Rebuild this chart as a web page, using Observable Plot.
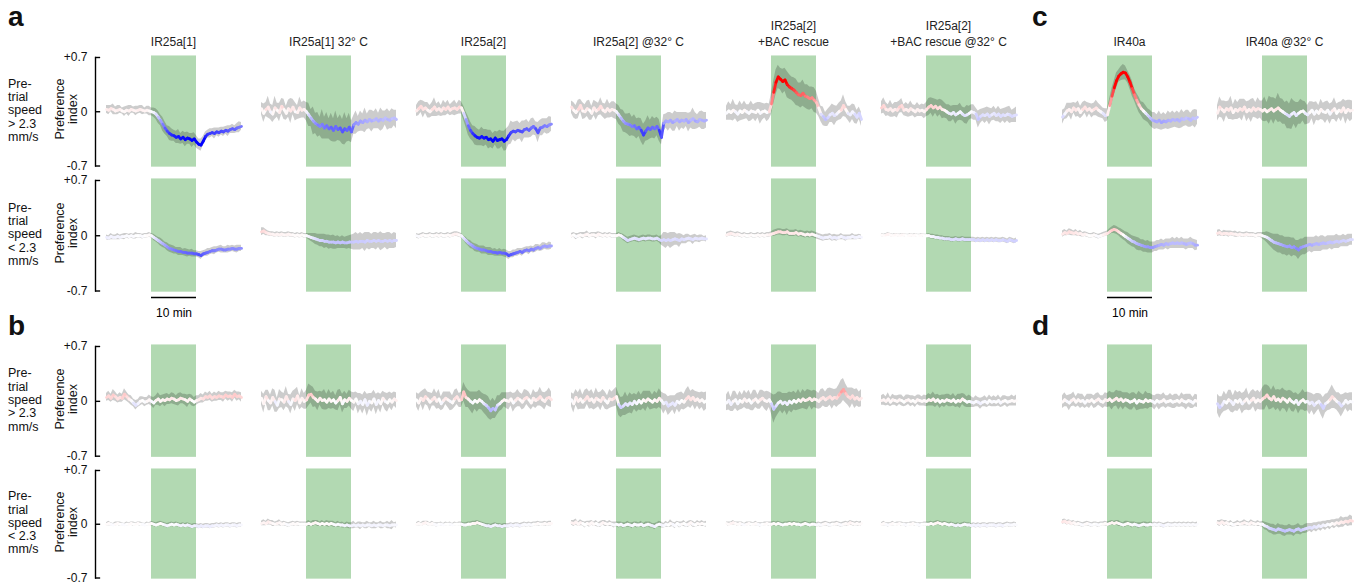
<!DOCTYPE html>
<html><head><meta charset="utf-8">
<script src="https://cdn.jsdelivr.net/npm/d3@7"></script>
<script src="https://cdn.jsdelivr.net/npm/@observablehq/plot@0.6"></script>
<style>
body{margin:0;background:#fff;font-family:"Liberation Sans",Arial,sans-serif;color:#111;}
#root{position:relative;width:1360px;height:584px;overflow:hidden;background:#fff;}
.title{position:absolute;font-size:12px;line-height:16px;text-align:center;width:220px;color:#222;white-space:nowrap;}
.letter{position:absolute;font-weight:bold;font-size:28px;line-height:28px;}
.rowlab{position:absolute;font-size:12.5px;line-height:13.3px;white-space:nowrap;}
.pi{position:absolute;font-size:12.5px;line-height:12.5px;width:90px;height:26px;text-align:center;transform:rotate(-90deg);}
</style></head><body><div id="root"></div>
<script>
// time grid (minutes) and stimulus window
const minutes = d3.range(0, 30.01, 0.5);
const stimulus = [{start: 10, end: 20}];
const titles = [["IR25a[1]"],["IR25a[1] 32° C"],["IR25a[2]"],["IR25a[2] @32° C"],["IR25a[2]","+BAC rescue"],["IR25a[2]","+BAC rescue @32° C"],["IR40a"],["IR40a @32° C"]];
const speedLabels = ["> 2.3","< 2.3","> 2.3","< 2.3"];
const yTicks = [-0.7, 0, 0.7];
const yTickLabels = ["-0.7","0","+0.7"];
const panelLetters = ["a","b","c","d"];

// mean preference index (x100) and half-width of the grey band (x100), 61 points each
// row 1: a, pre-trial speed > 2.3
const m_r1c1=[3,2,4,3,1,2,3,1,0,2, 1,3,2,1,2,3,2,1,2,1, 0,-1,-3,-7,-11,-16,-21,-25,-28,-30, -31,-33,-32,-35,-33,-36,-34,-35,-37,-35, -39,-42,-43,-38,-32,-29,-28,-27,-28,-26, -27,-25,-26,-24,-25,-23,-22,-23,-21,-20, -19];
const w_r1c1=[5,6,4,7,5,6,5,4,6,5, 7,5,4,6,5,5,6,4,5,6, 5,6,7,8,7,9,8,7,9,8, 7,8,9,7,8,9,8,7,9,8, 8,7,8,6,6,5,6,5,7,5, 6,5,6,5,7,5,6,5,6,7, 5];
const m_r1c2=[4,-2,3,6,0,-3,5,2,-1,7, 3,-2,4,1,6,0,-1,5,2,3, 0,-4,-8,-12,-15,-17,-19,-16,-21,-18, -22,-20,-24,-19,-23,-21,-26,-22,-24,-20, -26,-17,-14,-16,-12,-14,-11,-13,-10,-12, -11,-9,-12,-10,-11,-8,-10,-11,-9,-8, -10];
const w_r1c2=[8,12,9,14,10,11,15,9,12,10, 13,9,11,16,10,12,9,14,10,11, 12,15,11,18,13,16,12,19,14,17, 13,18,15,20,14,17,16,21,15,18, 14,12,15,10,13,11,16,10,12,14, 11,13,10,15,12,9,14,11,13,10, 12];
const m_r1c3=[1,4,7,3,5,2,0,3,6,2, 4,1,5,3,6,2,4,5,3,6, 5,-2,-10,-18,-24,-28,-31,-33,-34,-32, -34,-33,-36,-35,-38,-34,-37,-36,-35,-38, -36,-31,-27,-25,-26,-24,-25,-26,-23,-22, -24,-21,-19,-22,-27,-21,-20,-18,-19,-17, -16];
const w_r1c3=[7,9,8,11,7,10,8,9,12,8, 9,7,10,8,9,7,8,10,7,9, 8,9,10,12,11,10,12,11,10,12, 11,10,12,11,10,9,11,12,10,13, 14,12,15,11,13,12,10,14,11,12, 10,12,11,9,13,10,11,9,10,11, 9];
const m_r1c4=[6,2,-1,3,8,1,0,4,2,-2, 5,1,3,7,2,0,4,1,3,2, 0,-4,-8,-12,-15,-16,-17,-19,-18,-22, -20,-24,-30,-25,-21,-23,-20,-22,-19,-24, -33,-15,-12,-13,-11,-14,-12,-10,-13,-11, -12,-10,-14,-11,-9,-12,-13,-10,-11,-12, -11];
const w_r1c4=[8,10,9,12,8,11,9,10,13,9, 10,12,8,11,9,10,12,9,10,11, 10,12,11,14,12,13,15,12,14,13, 12,15,14,13,16,12,14,13,12,14, 10,11,9,12,10,11,13,9,12,10, 11,9,12,10,14,11,9,10,12,11, 10];
const m_r1c5=[-2,1,-1,2,0,-3,1,-1,2,0, -2,1,0,-1,2,-2,0,1,-1,0, 10,25,38,45,42,39,41,35,32,30, 28,25,22,21,24,20,19,17,18,15, 12,5,-3,-6,-10,-8,-4,-2,-5,-3, 0,2,8,3,-2,-4,0,-3,-7,-2, -10];
const w_r1c5=[9,12,10,14,9,11,13,10,12,9, 11,13,9,12,10,14,11,9,12,10, 14,15,16,15,14,16,15,17,16,15, 16,17,15,16,17,15,16,15,14,16, 14,11,10,12,9,11,10,12,13,10, 11,12,14,10,9,11,10,12,9,8, 9];
const m_r1c6=[5,8,3,2,4,1,3,2,6,8, 2,3,1,4,2,0,3,1,2,0, 3,6,8,5,7,4,6,3,2,0, -2,-3,-1,-4,-2,0,-3,-5,-4,-2, 0,-1,-3,-10,-6,-4,-5,-3,-6,-4, -2,-5,-3,-6,-4,-5,-3,-4,-6,-5, -4];
const w_r1c6=[8,10,9,7,11,8,9,10,8,9, 7,9,8,10,7,8,9,7,8,9, 9,11,10,12,9,11,10,12,10,9, 11,10,9,12,10,11,9,10,12,9, 9,10,8,11,9,8,10,9,11,8, 9,8,10,9,8,10,9,11,8,9, 10];
const m_r1c7=[-7,-3,1,3,0,5,2,4,-1,3, 6,2,4,1,3,5,2,0,-2,-5, -4,8,20,31,40,46,49,51,50,45, 38,30,22,15,9,4,1,-2,-5,-8, -11,-12,-13,-11,-14,-12,-13,-11,-12,-10, -11,-10,-12,-9,-10,-8,-9,-11,-8,-9, -7];
const w_r1c7=[9,7,10,8,11,7,9,10,8,9, 8,10,7,9,8,10,9,8,7,9, 8,9,10,9,10,8,9,10,9,8, 9,10,8,9,10,9,11,10,9,10, 10,11,9,12,10,11,9,12,10,11, 9,11,10,12,9,10,11,9,10,12, 9];
const m_r1c8=[-2,6,3,0,4,2,5,-1,3,1, 4,2,6,0,3,1,5,2,4,3, 1,3,0,2,4,1,3,5,2,0, -2,-4,-6,-3,-1,-5,-2,0,1,-2, -4,-1,2,-3,1,-2,3,0,-1,2, -3,1,4,-2,2,0,5,-1,3,1, 2];
const w_r1c8=[10,13,11,14,9,12,15,10,13,11, 12,14,10,13,11,15,12,10,14,11, 13,16,12,18,14,17,13,19,15,16, 14,18,16,20,15,17,14,16,13,15, 12,14,11,15,12,10,13,11,14,12, 13,11,14,12,10,13,11,15,12,14, 12];
// row 2: a, pre-trial speed < 2.3
const m_r2c1=[-2,-3,-1,-2,-2,-1,-2,-1,-1,0, -1,0,-1,0,0,0,-1,0,0,1, 0,-2,-4,-6,-8,-10,-12,-14,-16,-17, -18,-19,-20,-20,-21,-21,-22,-22,-22,-23, -23,-24,-25,-23,-22,-21,-20,-19,-19,-18, -17,-17,-18,-18,-17,-17,-16,-17,-17,-16, -16];
const w_r2c1=[3,3,4,3,3,4,3,3,4,3, 3,3,3,4,3,3,3,3,3,3, 3,4,4,4,5,5,4,5,5,5, 5,4,5,5,4,5,5,4,5,4, 4,4,5,4,4,5,4,4,5,4, 4,5,4,4,5,4,4,4,5,4, 4];
const m_r2c2=[5,6,4,3,2,2,1,2,1,2, 1,1,2,1,1,0,1,0,1,0, 0,-1,-2,-3,-4,-5,-6,-6,-7,-7, -8,-8,-8,-9,-8,-9,-8,-9,-9,-8, -8,-8,-7,-8,-7,-7,-8,-6,-7,-7, -6,-7,-6,-7,-7,-6,-7,-6,-7,-6, -6];
const w_r2c2=[5,4,4,3,3,3,3,3,3,3, 3,3,3,3,3,3,3,3,3,3, 3,4,5,6,7,7,8,8,9,8, 9,8,9,8,8,7,8,7,8,8, 9,10,11,10,11,9,12,10,11,9, 10,11,9,12,10,9,11,10,9,10, 9];
const m_r2c3=[0,-1,0,1,0,0,1,0,0,1, 0,1,0,0,1,0,1,2,2,1, 0,-3,-6,-9,-11,-13,-15,-16,-17,-18, -18,-19,-20,-20,-21,-21,-22,-21,-22,-22, -23,-25,-24,-23,-22,-21,-20,-21,-19,-18, -19,-17,-18,-16,-15,-16,-14,-13,-14,-13, -13];
const w_r2c3=[3,3,3,3,3,3,3,3,3,3, 3,3,3,3,3,3,3,3,3,3, 3,3,4,4,5,4,5,5,4,5, 5,4,5,5,4,5,4,5,4,5, 5,5,4,5,4,5,4,5,4,4, 5,4,4,5,4,4,5,4,4,5, 4];
const m_r2c4=[0,1,-1,0,1,0,1,2,0,1, 1,0,2,1,0,1,0,1,0,0, 0,1,0,-2,-4,-6,-5,-4,-3,-4, -5,-4,-3,-4,-3,-3,-4,-4,-3,-5, -6,-5,-6,-5,-6,-5,-4,-5,-6,-4, -5,-4,-3,-4,-5,-3,-4,-4,-3,-4, -4];
const w_r2c4=[3,3,4,3,3,4,3,4,3,3, 3,4,3,3,3,3,3,3,3,3, 3,3,3,4,4,4,4,4,4,4, 4,4,4,4,4,4,4,4,4,4, 6,9,10,8,10,9,8,7,9,6, 5,6,5,4,6,5,4,5,4,3, 4];
const m_r2c5=[1,2,3,2,1,2,1,0,1,0, 0,1,0,0,1,0,1,0,1,1, 2,3,4,5,5,4,4,5,3,3, 3,4,2,3,2,1,2,1,2,1, 0,-1,-2,-3,-2,-2,-1,-3,-2,-3, -2,-1,-2,-3,-2,-2,-1,-2,-2,-1, -2];
const w_r2c5=[3,3,3,3,3,3,3,3,3,3, 3,3,3,3,3,3,3,3,3,3, 3,4,4,4,4,4,4,4,4,4, 4,4,4,4,4,4,4,4,4,4, 4,4,4,4,4,4,4,4,4,4, 3,4,3,4,3,3,4,3,3,3, 3];
const m_r2c6=[1,0,1,2,1,0,1,1,0,1, 1,0,0,1,0,1,0,0,1,0, 0,0,-1,-1,-2,-2,-3,-3,-4,-4, -4,-5,-5,-4,-5,-5,-4,-5,-5,-5, -5,-5,-6,-5,-6,-5,-6,-5,-6,-5, -6,-5,-6,-6,-5,-6,-7,-5,-6,-7, -6];
const w_r2c6=[2,2,2,2,2,2,2,2,2,2, 2,2,2,2,2,2,2,2,2,2, 2,3,3,3,3,3,3,3,3,3, 3,3,3,3,3,3,3,3,3,3, 3,3,3,3,3,3,3,3,3,3, 3,3,3,3,3,3,3,3,3,3, 3];
const m_r2c7=[2,4,3,5,4,3,4,2,3,1, 2,1,0,0,1,0,-1,0,1,2, 3,5,7,8,7,5,3,1,-1,-3, -5,-7,-8,-10,-11,-12,-13,-14,-14,-15, -15,-14,-13,-12,-11,-12,-10,-11,-10,-9, -10,-9,-10,-9,-10,-11,-10,-9,-10,-12, -12];
const w_r2c7=[4,4,3,4,4,3,4,3,4,3, 3,3,3,3,3,3,3,3,3,3, 3,4,4,5,5,5,6,6,6,7, 7,7,7,8,8,7,8,7,8,7, 7,6,7,6,7,6,6,7,6,7, 6,7,6,7,6,7,6,7,6,7, 6];
const m_r2c8=[3,4,2,3,3,2,3,2,2,1, 2,1,1,2,1,1,1,0,1,1, 0,-1,-2,-4,-6,-8,-9,-10,-11,-12, -13,-14,-13,-15,-14,-16,-18,-15,-14,-13, -12,-11,-12,-11,-10,-11,-10,-9,-10,-9, -8,-9,-8,-7,-8,-7,-6,-7,-6,-5, -5];
const w_r2c8=[4,4,3,4,3,4,3,3,4,3, 3,3,3,3,3,3,3,3,3,3, 4,5,7,8,9,10,11,12,11,12, 11,12,11,12,11,10,12,11,10,11, 10,9,10,9,10,9,10,9,8,9, 8,9,8,9,8,7,8,7,8,7, 7];
// row 3: b, pre-trial speed > 2.3
const m_r3c1=[5,7,4,8,6,3,5,4,9,6, 3,1,-2,-5,-3,0,1,-1,0,2, 0,-2,1,3,0,2,1,3,2,4, 3,1,2,4,3,2,0,3,1,-1, 1,2,4,3,6,5,7,4,6,5, 7,6,5,8,6,7,5,9,6,7, 5];
const w_r3c1=[5,6,5,7,6,5,6,5,7,6, 5,6,5,6,5,6,5,6,5,6, 6,7,6,8,7,6,8,7,6,7, 7,6,8,7,6,7,8,6,7,6, 6,5,6,5,6,5,6,5,6,5, 6,5,6,5,6,5,6,5,6,5, 6];
const m_r3c2=[4,-3,6,1,-2,5,0,-5,3,2, -1,6,0,-4,3,1,7,-2,4,0, 2,8,9,5,3,0,4,1,2,-1, 3,0,2,-2,1,5,-3,2,0,4, 1,-1,3,-3,0,-4,2,-5,0,-2, 3,-4,1,-3,4,0,-2,2,-1,3, 1];
const w_r3c2=[9,12,8,13,10,11,14,9,12,10, 11,13,9,12,10,14,11,9,12,10, 12,14,11,13,10,12,9,11,13,10, 12,10,11,9,13,10,12,11,9,10, 11,12,9,13,10,12,11,14,10,12, 11,13,10,12,9,11,12,10,11,9, 10];
const m_r3c3=[2,-2,4,1,6,3,-1,2,5,0, 3,-3,1,4,2,0,-2,3,6,1, 2,12,5,3,0,-2,1,-1,2,0, -3,-5,-8,-12,-9,-11,-5,-3,0,2, 1,0,3,-2,1,4,2,-1,3,5, 2,-2,4,1,3,6,2,0,4,5, 2];
const w_r3c3=[9,11,8,13,10,9,12,8,11,10, 12,9,11,8,10,12,9,11,10,9, 10,12,13,11,12,14,11,13,12,11, 12,13,14,12,13,11,12,10,11,9, 10,11,9,12,10,11,9,10,12,9, 10,9,11,10,9,12,10,11,9,12, 10];
const m_r3c4=[2,-3,5,0,3,-1,2,6,1,3, -1,4,2,0,5,1,-2,3,2,4, 6,-4,-8,-6,-3,-5,-2,-4,0,-3, 1,-2,2,0,3,1,-1,2,0,4, 1,-3,-1,-6,-4,-2,-5,0,-2,1, -1,3,6,2,5,1,3,0,2,-1, 1];
const w_r3c4=[9,12,10,11,13,9,12,10,11,12, 10,13,9,12,10,11,9,12,10,11, 12,14,13,12,15,11,13,12,10,11, 12,10,11,13,10,12,9,11,10,12, 11,13,10,12,11,9,12,10,13,11, 10,12,13,11,10,12,9,11,10,12, 11];
const m_r3c5=[-2,1,-4,0,2,-3,1,-1,3,0, 2,-2,1,3,-1,2,4,1,0,2, -3,-10,-6,-2,0,-3,-1,-4,0,-2, 1,-1,2,0,3,1,2,4,1,3, 2,0,3,5,2,4,6,3,5,4, 8,12,15,10,6,4,7,3,5,2, 4];
const w_r3c5=[10,12,9,13,11,10,12,9,11,10, 12,10,13,11,9,12,10,11,13,10, 13,18,15,14,12,13,11,14,12,13, 12,11,13,10,12,11,13,10,12,11, 11,10,12,11,10,12,11,13,10,12, 13,15,14,12,11,13,10,12,11,10, 11];
const m_r3c6=[1,2,0,3,-1,2,1,0,2,1, -1,1,2,0,1,-1,2,1,0,1, 0,2,1,3,0,2,-1,1,0,2, 1,0,2,-1,1,0,3,1,-1,0, -1,-2,0,-1,-3,-1,0,-2,1,-1, 0,-1,1,-2,0,1,-1,0,1,0, 1];
const w_r3c6=[6,7,6,8,6,7,6,7,6,7, 6,7,6,7,6,7,6,7,6,7, 7,8,7,9,8,7,8,7,8,7, 8,7,8,7,8,9,7,8,7,8, 7,6,7,6,7,6,7,6,7,6, 7,6,7,6,7,6,7,6,7,6, 7];
const m_r3c7=[-1,2,0,-2,1,3,-1,2,0,1, -2,1,0,2,-1,1,3,0,-1,2, 1,3,0,2,4,1,3,0,2,1, -1,0,2,-2,1,0,-1,2,0,1, 0,-2,1,-1,0,2,-1,0,1,-1, 0,1,-1,2,0,-1,1,0,-2,1, 0];
const w_r3c7=[8,9,7,10,8,9,7,8,9,8, 7,8,9,7,8,9,8,7,8,9, 9,10,11,9,10,12,10,11,9,10, 10,11,9,10,12,10,9,11,10,9, 8,9,8,10,8,9,8,7,9,8, 9,8,7,9,8,10,8,9,7,8, 8];
const m_r3c8=[-3,-8,-5,0,-2,2,0,-4,1,-1, 2,-3,0,3,-2,1,4,-1,2,0, 3,5,8,4,2,6,1,3,0,4, 2,-1,3,0,-2,1,-4,0,2,-1, 0,-3,-1,-5,-2,0,-4,-9,-3,-1, 2,6,3,0,-2,-6,-3,1,-2,0, -1];
const w_r3c8=[12,14,11,13,10,12,14,11,13,12, 11,13,12,14,10,12,11,13,12,11, 14,16,13,15,12,14,13,12,14,13, 12,14,11,13,12,10,12,11,13,12, 12,14,11,13,12,10,13,14,12,11, 13,15,12,11,13,14,12,10,12,11, 12];
// row 4: b, pre-trial speed < 2.3
const m_r4c1=[0,1,0,-1,0,1,0,0,-1,0, 0,1,0,0,1,0,0,-1,0,0, 1,0,-1,0,1,0,-1,-2,-1,0, -1,0,-1,-2,-1,-2,-1,-2,-3,-2, -2,-3,-2,-3,-2,-2,-3,-2,-2,-1, -2,-1,-2,-1,-1,-2,-1,-1,-2,-1, -1];
const w_r4c1=[2,3,2,2,3,2,3,2,2,3, 2,2,3,2,2,3,2,2,3,2, 3,3,3,3,3,3,3,3,3,3, 3,3,3,3,3,3,3,3,3,3, 3,3,3,3,3,3,3,3,3,3, 3,3,3,3,3,3,3,3,3,3, 3];
const m_r4c2=[1,2,1,3,2,1,0,1,2,0, 1,0,-1,0,1,0,1,0,0,0, 0,1,0,1,2,1,0,1,0,1, 0,1,0,-1,0,-1,-1,-2,-1,-2, -2,-1,-2,-1,-2,-1,-2,-1,-1,-2, -1,-2,-1,-1,-2,-1,-1,-2,-1,-1, -1];
const w_r4c2=[3,4,3,4,3,4,3,3,4,3, 3,3,3,3,3,3,3,3,3,3, 3,4,3,4,3,4,3,4,3,4, 4,3,4,3,4,3,4,3,4,4, 4,5,3,4,5,3,4,5,3,4, 5,4,3,5,4,3,5,4,6,3, 4];
const m_r4c3=[0,1,0,1,2,1,0,1,0,-1, 0,0,-1,0,0,0,-1,0,0,0, 0,-1,-1,0,0,1,1,2,1,0, -1,-2,-2,-3,-2,-1,-2,-2,-3,-2, -2,-2,-1,-2,-1,-1,-2,-1,0,-1, 0,-1,0,0,1,0,0,1,0,1, 1];
const w_r4c3=[2,3,2,3,2,3,2,3,2,3, 2,3,2,3,2,3,2,3,2,3, 3,3,3,3,3,3,3,3,3,3, 3,3,3,3,3,3,3,3,3,3, 3,3,3,3,3,3,3,3,3,3, 3,3,3,3,3,3,3,3,3,3, 3];
const m_r4c4=[2,1,3,0,2,1,-1,1,0,2, 0,1,-1,0,2,1,0,1,0,-1, 0,-1,0,-2,-1,0,-1,-2,0,-1, -1,0,-2,-1,0,-1,-2,-3,-1,0, -1,-2,0,-1,1,0,-2,1,-1,0, 1,-1,0,2,0,-1,1,0,1,0, 0];
const w_r4c4=[3,4,4,3,4,3,4,3,4,3, 3,4,3,4,3,4,3,4,3,4, 3,4,3,4,3,4,3,4,3,4, 3,4,3,4,3,4,3,4,3,4, 4,3,4,3,5,3,4,3,4,3, 4,3,4,3,4,3,4,3,4,3, 4];
const m_r4c5=[1,0,1,2,1,0,1,0,-1,0, 1,0,0,1,0,-1,0,0,1,0, 0,1,0,1,0,-1,0,0,1,0, 1,0,0,-1,0,1,0,-1,0,0, -1,0,-1,0,1,0,-1,0,0,1, 0,-1,0,1,0,2,1,0,1,0, 1];
const w_r4c5=[2,3,2,3,2,3,2,3,2,3, 2,3,2,3,2,3,2,3,2,3, 3,3,3,3,3,3,3,3,3,3, 3,3,3,3,3,3,3,3,3,3, 3,3,3,3,3,3,3,3,3,3, 3,3,3,3,3,3,3,3,3,3, 3];
const m_r4c6=[0,1,0,-1,0,1,0,0,1,0, 0,-1,0,0,1,0,0,-1,0,0, 0,0,1,0,1,2,1,0,1,0, -1,0,-1,-2,-1,-2,-1,0,-1,-1, -2,-1,-2,-1,-2,-1,-1,-2,-1,-1, -1,-2,-1,-1,-2,-1,0,-1,-1,0, -1];
const w_r4c6=[2,3,2,3,2,3,2,3,2,3, 2,3,2,3,2,3,2,3,2,3, 3,3,3,3,3,3,3,3,3,3, 3,3,3,3,3,3,3,3,3,3, 3,3,3,3,3,3,3,3,3,3, 3,3,3,3,3,3,3,3,3,3, 3];
const m_r4c7=[3,4,2,3,1,2,0,1,0,-1, 0,1,0,-1,0,0,-1,0,0,1, 0,1,2,1,2,1,0,-1,0,1, 0,-1,0,-1,-2,-1,0,-1,-1,0, -1,0,-1,0,-1,-2,-1,0,-1,-1, 0,-1,0,-1,0,-1,0,-1,0,-1, 0];
const w_r4c7=[3,3,3,3,3,3,3,3,3,3, 3,3,3,3,3,3,3,3,3,3, 3,3,3,3,3,4,3,3,4,3, 3,4,3,3,4,3,3,4,3,3, 3,3,3,3,3,3,3,3,3,3, 3,3,3,3,3,3,3,3,3,3, 3];
const m_r4c8=[2,1,3,1,2,0,1,-1,0,1, 0,1,2,1,0,2,1,0,1,0, 0,-2,-3,-5,-6,-7,-8,-6,-7,-8, -9,-8,-7,-8,-9,-7,-6,-8,-7,-6, -5,-4,-5,-3,-4,-2,-3,-1,-2,0, -1,1,0,2,1,3,2,4,3,5, 4];
const w_r4c8=[3,4,3,4,3,3,4,3,3,4, 3,3,4,3,3,4,3,3,4,3, 4,5,5,6,6,7,6,7,6,7, 7,6,7,6,7,6,7,6,5,6, 6,5,6,5,6,5,6,5,6,5, 6,5,6,5,6,7,6,5,6,7, 6];

const meanGrid = [
  [m_r1c1,m_r1c2,m_r1c3,m_r1c4,m_r1c5,m_r1c6,m_r1c7,m_r1c8],
  [m_r2c1,m_r2c2,m_r2c3,m_r2c4,m_r2c5,m_r2c6,m_r2c7,m_r2c8],
  [m_r3c1,m_r3c2,m_r3c3,m_r3c4,m_r3c5,m_r3c6,m_r3c7,m_r3c8],
  [m_r4c1,m_r4c2,m_r4c3,m_r4c4,m_r4c5,m_r4c6,m_r4c7,m_r4c8]];
const widthGrid = [
  [w_r1c1,w_r1c2,w_r1c3,w_r1c4,w_r1c5,w_r1c6,w_r1c7,w_r1c8],
  [w_r2c1,w_r2c2,w_r2c3,w_r2c4,w_r2c5,w_r2c6,w_r2c7,w_r2c8],
  [w_r3c1,w_r3c2,w_r3c3,w_r3c4,w_r3c5,w_r3c6,w_r3c7,w_r3c8],
  [w_r4c1,w_r4c2,w_r4c3,w_r4c4,w_r4c5,w_r4c6,w_r4c7,w_r4c8]];

// ---- layout ----
const root = document.getElementById("root");
const colStart = [106,261,416,571,726,881,1062,1217];
const rowTop = [57,180,346,470], rowBot = [165.5,290.5,455.7,577.5];
const colorScale = {type:"linear", domain:[-0.36,0,0.36], range:["#0000ff","#ffffff","#ff0000"], interpolate:"rgb", clamp:true};
const font = "Liberation Sans, Arial, sans-serif";

function panel(r, c) {
  const mean = meanGrid[r][c], hw = widthGrid[r][c];
  const pts = minutes.map((t, i) => ({t, m: mean[i] / 100, lo: (mean[i] - hw[i]) / 100, hi: (mean[i] + hw[i]) / 100}));
  const segs = pts.slice(1).map((p, i) => ({t1: pts[i].t, m1: pts[i].m, t2: p.t, m2: p.m, v: (pts[i].m + p.m) / 2}));
  const axis = c === 0;
  const bar = r === 1 && (c === 0 || c === 6);
  const ml = axis ? 95 : 0, mt = 4, mb = bar ? 34 : 4, mr = 3;
  const h = rowBot[r] - rowTop[r];
  const marks = [
    Plot.rect(stimulus, {x1: "start", x2: "end", y1: () => -0.715, y2: () => 0.72, fill: "green", fillOpacity: 0.3}),
    Plot.areaY(pts, {x: "t", y1: "lo", y2: "hi", fill: "black", fillOpacity: 0.2}),
    Plot.link(segs, {x1: "t1", y1: "m1", x2: "t2", y2: "m2", stroke: "v", strokeWidth: 2.8, strokeLinecap: "round"})
  ];
  if (axis) {
    marks.push(
      Plot.frame({anchor: "left", stroke: "black", strokeWidth: 1.4}),
      Plot.ruleY(yTicks, {x1: () => -2.444, x2: () => -1.3, stroke: "black", strokeWidth: 1.4}),
      Plot.text(yTicks, {y: d => d, text: d => yTickLabels[yTicks.indexOf(d)], frameAnchor: "left", textAnchor: "end", dx: -8, fontSize: 12, fill: "#111"})
    );
  }
  if (bar) {
    marks.push(
      Plot.ruleY(stimulus, {x1: "start", x2: "end", y: () => -0.782, stroke: "black", strokeWidth: 1.4}),
      Plot.text(["10 min"], {x: () => 15, y: () => -0.782, text: d => d, dy: 16, fontSize: 12, fill: "black"})
    );
  }
  const svg = Plot.plot({
    width: ml + 146 + mr, height: h + mt + mb,
    marginLeft: ml, marginRight: mr, marginTop: mt, marginBottom: mb,
    x: {domain: [-2.444, 30], axis: null},
    y: {domain: [-0.7, 0.7], axis: null},
    color: colorScale,
    style: {background: "transparent", fontFamily: font, overflow: "visible", color: "#111"},
    marks
  });
  svg.style.position = "absolute";
  svg.style.left = (axis ? 0 : colStart[c] - 11) + "px";
  svg.style.top = (rowTop[r] - mt) + "px";
  root.appendChild(svg);
}

for (let r = 0; r < 4; r++) for (let c = 0; c < 8; c++) panel(r, c);

// column titles
titles.forEach((t, c) => {
  const d = document.createElement("div");
  d.className = "title";
  d.style.left = (colStart[c] + 67.5 - 110) + "px";
  d.style.top = (34.3 - 16 * (t.length - 1)) + "px";
  d.innerHTML = t.join("<br>");
  root.appendChild(d);
});

// row labels and y titles
speedLabels.forEach((s, r) => {
  const zero = (rowTop[r] + rowBot[r]) / 2;
  const d = document.createElement("div");
  d.className = "rowlab";
  d.style.left = "8px";
  d.style.top = (zero - 33.5) + "px";
  d.innerHTML = ["Pre-", "trial", "speed", s.replace("<", "&lt;").replace(">", "&gt;"), "mm/s"].join("<br>");
  root.appendChild(d);
  const p = document.createElement("div");
  p.className = "pi";
  p.style.left = (67 - 45) + "px";
  p.style.top = (zero - 2 - 13) + "px";
  p.innerHTML = "Preference<br>index";
  root.appendChild(p);
});

// panel letters
const letterPos = [[8, 3], [8, 312], [1032, 3], [1032, 312]];
panelLetters.forEach((l, i) => {
  const d = document.createElement("div");
  d.className = "letter";
  d.style.left = letterPos[i][0] + "px";
  d.style.top = letterPos[i][1] + "px";
  d.textContent = l;
  root.appendChild(d);
});
</script></body></html>
